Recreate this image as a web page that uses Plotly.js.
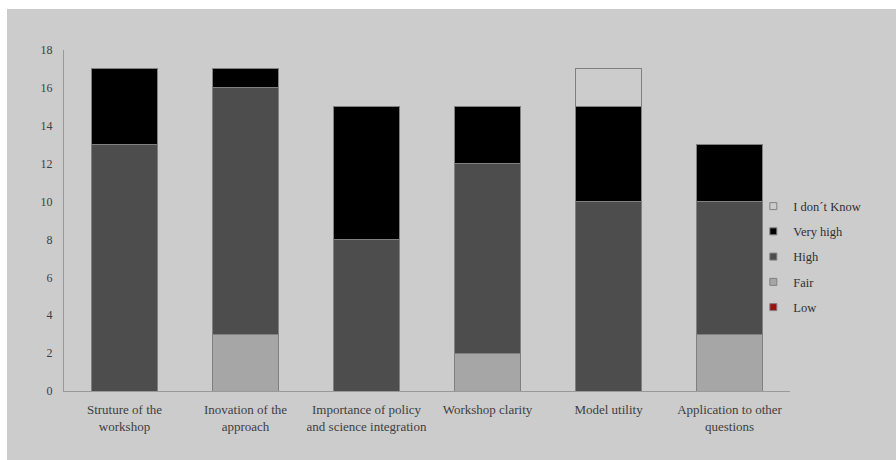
<!DOCTYPE html>
<html>
<head>
<meta charset="utf-8">
<script src="https://cdn.plot.ly/plotly-3.0.1.min.js"></script>
<style>
  html, body { margin: 0; padding: 0; background: #ffffff; }
  #chart { position: absolute; left: 7px; top: 9px; width: 889px; height: 451px; }
</style>
</head>
<body>
<div id="chart"></div>
<script>
const categories = [
  "Struture of the<br>workshop",
  "Inovation of the<br>approach",
  "Importance of policy<br>and science integration",
  "Workshop clarity",
  "Model utility",
  "Application to other<br>questions"
];
const seriesNames = ["Low", "Fair", "High", "Very high", "I don\u00b4t Know"];
const low      = [0, 0, 0, 0, 0, 0];
const fair     = [0, 3, 0, 2, 0, 3];
const high     = [13, 13, 8, 10, 10, 7];
const veryHigh = [4, 1, 7, 3, 5, 3];
const dontKnow = [0, 0, 0, 0, 2, 0];
const yTicks   = [0, 2, 4, 6, 8, 10, 12, 14, 16, 18];

const colors = ["#9e1010", "#a6a6a6", "#4d4d4d", "#000000", "#cccccc"];
const seriesValues = [low, fair, high, veryHigh, dontKnow];
const outline = { color: "#808080", width: 1 };

const traces = [];
seriesValues.forEach((vals, i) => {
  traces.push({
    type: "bar", name: seriesNames[i], x: categories, y: vals,
    marker: { color: colors[i], line: outline },
    showlegend: false, hoverinfo: "skip"
  });
});
// legend entries (small square keys), top entry = last series
for (let i = seriesValues.length - 1; i >= 0; i--) {
  traces.push({
    type: "scatter", mode: "markers", name: seriesNames[i],
    x: [null], y: [null], legendgroup: "g" + i,
    marker: { symbol: "square", size: 7, color: colors[i], line: { color: "#808080", width: 1 } },
    hoverinfo: "skip"
  });
}

const fontFamily = "Liberation Serif, Times New Roman, serif";
const layout = {
  barmode: "stack",
  bargap: 0.46,
  width: 889, height: 451,
  margin: { l: 57, r: 106, t: 41, b: 69 },
  paper_bgcolor: "#cccccc",
  plot_bgcolor: "#cccccc",
  font: { family: fontFamily, color: "#404040", size: 12 },
  showlegend: true,
  legend: {
    x: 0.9495, xanchor: "left", y: 0.393, yanchor: "middle",
    bgcolor: "rgba(0,0,0,0)", font: { family: fontFamily, size: 12.5, color: "#303030" },
    itemwidth: 30, traceorder: "grouped", tracegroupgap: 6
  },
  xaxis: {
    type: "category",
    showgrid: false, zeroline: false,
    showline: true, linecolor: "#999999", linewidth: 1,
    ticks: "", ticklabelstandoff: 6,
    tickfont: { family: fontFamily, size: 13, color: "#404040" }
  },
  yaxis: {
    range: [0, 18], tickvals: yTicks,
    showgrid: false, zeroline: false,
    showline: true, linecolor: "#999999", linewidth: 1,
    ticks: "", ticklabelstandoff: 8,
    tickfont: { family: fontFamily, size: 12, color: "#404040" }
  }
};
Plotly.newPlot("chart", traces, layout, { displayModeBar: false, staticPlot: true });
</script>
</body>
</html>
